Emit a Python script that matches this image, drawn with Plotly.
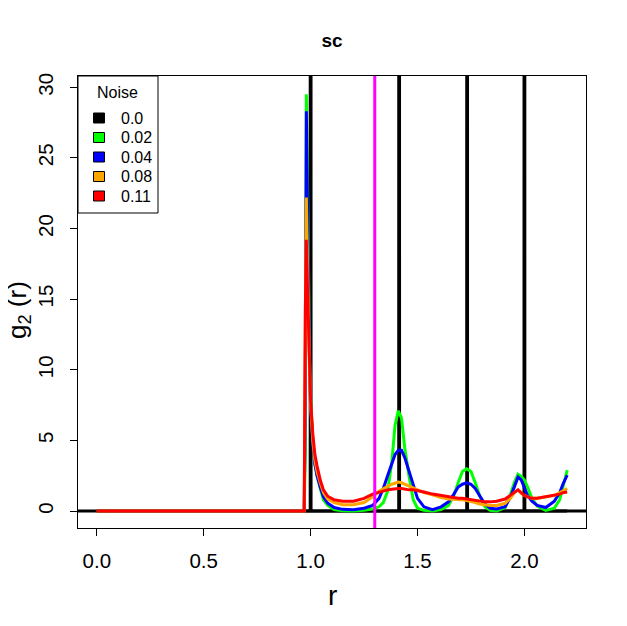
import plotly.graph_objects as go

# ---- data ----
r = [0.0, 0.97, 0.975, 0.98, 0.985, 0.99, 0.995, 1.0, 1.01, 1.02, 1.03, 1.045, 1.06, 1.08,
     1.11, 1.15, 1.2, 1.25, 1.29, 1.32, 1.34, 1.36, 1.38, 1.395, 1.41, 1.425, 1.44, 1.46,
     1.48, 1.5, 1.53, 1.57, 1.61, 1.645, 1.67, 1.69, 1.71, 1.73, 1.75, 1.77, 1.79, 1.815,
     1.84, 1.87, 1.91, 1.935, 1.955, 1.97, 1.985, 2.0, 2.015, 2.035, 2.06, 2.1, 2.14, 2.165,
     2.18, 2.2]

g_002 = [0, 0, 4, 29.5, 24, 16, 11, 8, 5.0, 3.4, 2.5, 1.6, 0.8, 0.4,
         0.1, 0.02, 0.0, 0.05, 0.15, 0.3, 0.6, 1.4, 3.5, 6.1, 7.1, 6.6, 4.5, 2.5,
         0.8, 0.2, 0.05, 0.0, 0.1, 0.4, 1.1, 2.0, 2.8, 3.0, 2.8, 2.0, 1.1, 0.3,
         0.05, 0.0, 0.25, 1.2, 2.1, 2.6, 2.45, 2.2, 1.7, 0.9, 0.35, 0.05, 0.2, 0.8,
         1.8, 2.9]

g_004 = [0, 0, 8, 28.3, 22, 15, 10.5, 7.5, 4.8, 3.3, 2.5, 1.7, 1.0, 0.55,
         0.25, 0.12, 0.1, 0.2, 0.4, 0.9, 1.6, 2.5, 3.4, 4.0, 4.3, 4.3, 3.8, 2.8,
         1.8, 0.9, 0.3, 0.1, 0.3, 0.65, 1.2, 1.7, 1.9, 2.0, 1.9, 1.6, 1.1, 0.5,
         0.2, 0.15, 0.3, 1.0, 1.8, 2.4, 2.2, 1.6, 1.1, 0.7, 0.4, 0.25, 0.7, 1.3,
         1.9, 2.55]

g_008 = [0, 0, 12, 22.2, 18, 13, 10, 7.5, 5.0, 3.6, 2.8, 2.0, 1.3, 0.85,
         0.6, 0.45, 0.45, 0.6, 1.0, 1.4, 1.6, 1.75, 1.9, 2.0, 2.05, 2.0, 1.9, 1.75,
         1.6, 1.45, 1.3, 1.15, 0.95, 0.85, 0.85, 0.8, 0.8, 0.75, 0.7, 0.6, 0.5, 0.45,
         0.4, 0.4, 0.55, 0.9, 1.35, 1.5, 1.25, 1.1, 1.0, 0.9, 0.9, 1.0, 1.1, 1.3,
         1.45, 1.6]

g_011 = [0, 0, 14, 19.2, 16, 12.5, 10, 7.8, 5.5, 4.0, 3.2, 2.2, 1.5, 1.05,
         0.8, 0.7, 0.7, 0.9, 1.2, 1.35, 1.45, 1.5, 1.55, 1.6, 1.6, 1.6, 1.55, 1.5,
         1.5, 1.45, 1.35, 1.2, 1.1, 1.0, 0.95, 0.9, 0.9, 0.85, 0.8, 0.75, 0.7, 0.65,
         0.65, 0.7, 0.85, 1.1, 1.35, 1.5, 1.3, 1.1, 1.0, 0.9, 0.9, 1.0, 1.1, 1.2,
         1.3, 1.35]

# noise-free lattice: delta peaks at the sc neighbour shells
r_0 = [0.0, 0.998, 1.0, 1.002, 1.412, 1.414, 1.416, 1.730, 1.732, 1.734,
       1.998, 2.0, 2.002, 2.2]
g_0 = [0, 0, 500, 0, 0, 500, 0, 0, 500, 0, 0, 500, 0, 0]

cutoff = 1.3
noise_labels = ["0.0", "0.02", "0.04", "0.08", "0.11"]
colors = ["#000000", "#00ff00", "#0000ff", "#ffa500", "#ff0000"]

fig = go.Figure()
series = [(r_0, g_0), (r, g_002), (r, g_004), (r, g_008), (r, g_011)]
for (xs, ys), c in zip(series, colors):
    fig.add_trace(go.Scatter(x=xs, y=ys, mode="lines", line=dict(color=c, width=3),
                             showlegend=False, hoverinfo="skip"))

fig.add_hline(y=0, line=dict(color="black", width=3), layer="below")
fig.add_vline(x=cutoff, line=dict(color="#ff00ff", width=3))

# ---- layout geometry (page pixels -> paper coords) ----
PX0, PX1, PY0, PY1 = 78, 586, 76, 528   # plot area on the page


def px(xp):
    return (xp - PX0) / (PX1 - PX0)


def py(yp):
    return (PY1 - yp) / (PY1 - PY0)


font = "Liberation Sans, Arial, sans-serif"
shapes = []
annotations = []

# legend box (drawn by hand, R style)
shapes.append(dict(type="rect", xref="paper", yref="paper",
                   x0=px(78), x1=px(158), y0=py(213), y1=py(76),
                   line=dict(color="black", width=1), fillcolor="white", layer="above"))
annotations.append(dict(text="Noise", xref="paper", yref="paper", x=px(117), y=py(92),
                        xanchor="center", yanchor="middle", showarrow=False,
                        font=dict(size=16, family=font, color="black")))
for i, (lab, c) in enumerate(zip(noise_labels, colors)):
    yc = 118 + 19.5 * i
    shapes.append(dict(type="rect", xref="paper", yref="paper",
                       x0=px(93.5), x1=px(104.5), y0=py(yc + 5), y1=py(yc - 5),
                       line=dict(color="black", width=1), fillcolor=c, layer="above"))
    annotations.append(dict(text=lab, xref="paper", yref="paper", x=px(119), y=py(yc),
                            xanchor="left", yanchor="middle", showarrow=False,
                            font=dict(size=16, family=font, color="black")))

# axis titles
annotations.append(dict(text="r", xref="paper", yref="paper", x=0.5, y=py(595),
                        xanchor="center", yanchor="middle", showarrow=False,
                        font=dict(size=28, family=font, color="black")))
annotations.append(dict(text="g<sub>2</sub> (r)", xref="paper", yref="paper",
                        x=px(18), y=py(310), textangle=-90,
                        xanchor="center", yanchor="middle", showarrow=False,
                        font=dict(size=26, family=font, color="black")))

H = 626
fig.update_layout(
    width=627, height=626,
    margin=dict(l=70, r=49, t=68, b=106),
    plot_bgcolor="white", paper_bgcolor="white",
    font=dict(family=font, color="black"),
    showlegend=False,
    title=dict(text="<b>sc</b>", x=0.5, xref="paper", xanchor="center",
               y=1 - 32 / H, yanchor="middle", font=dict(size=19)),
    xaxis=dict(range=[-0.088, 2.288], tickvals=[0, 0.5, 1.0, 1.5, 2.0],
               ticktext=["0.0", "0.5", "1.0", "1.5", "2.0"],
               showline=True, linecolor="black", linewidth=1, mirror=True,
               ticks="outside", ticklen=7, tickcolor="black", showgrid=False,
               zeroline=False, tickfont=dict(size=20.5), ticklabelstandoff=7,
               automargin=False),
    yaxis=dict(range=[-1.2, 30.8], tickvals=[0, 5, 10, 15, 20, 25, 30],
               showline=True, linecolor="black", linewidth=1, mirror=True,
               ticks="outside", ticklen=7, tickcolor="black", showgrid=False,
               zeroline=False, tickangle=-90, tickfont=dict(size=20.5),
               ticklabelstandoff=9, automargin=False),
    shapes=list(fig.layout.shapes) + shapes,
    annotations=annotations,
)

fig.write_html("out.html")
